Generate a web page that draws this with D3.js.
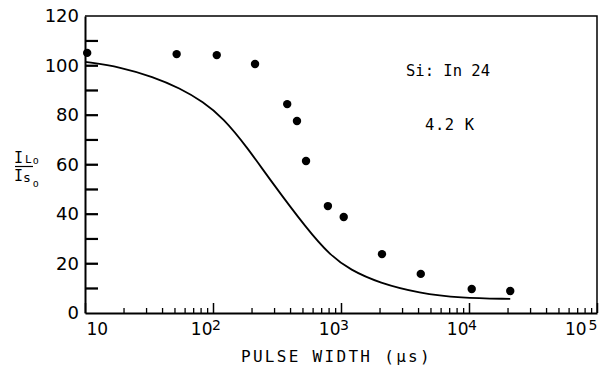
<!DOCTYPE html>
<html>
<head>
<meta charset="utf-8">
<script src="https://cdn.jsdelivr.net/npm/d3@7"></script>
<style>
body { margin: 0; background: #fff; }
</style>
</head>
<body>
<script>
// measured points (pulse width in us, IL/IS ratio)
var dotX = [10.4, 52, 107, 213, 380, 453, 533, 790, 1050, 2090, 4200, 10500, 21000];
var dotY = [105.1, 104.6, 104.2, 100.6, 84.4, 77.6, 61.4, 43.2, 38.8, 23.8, 15.8, 9.7, 8.9];

// calculated curve
var curveX = [10, 19, 34, 55, 84, 120, 184, 280, 550, 820, 1180, 2000, 4100, 8500, 21000];
var curveY = [101.5, 99.4, 95.4, 90.9, 85.3, 78.8, 67.1, 53.7, 33.5, 23.4, 17.4, 12.1, 8.0, 6.1, 5.7];

var yTicks = [10, 20, 30, 40, 50, 60, 70, 80, 90, 100, 110];
var yLabels = [0, 20, 40, 60, 80, 100, 120];
var xDecades = [10, 100, 1000, 10000, 100000];
var xExponents = ["", "2", "3", "4", "5"];

var W = 603, H = 366;
var plotL = 85, plotR = 597, plotT = 16, plotB = 313;

var svg = d3.select("body").append("svg")
    .attr("width", W)
    .attr("height", H);

var x = d3.scaleLog().domain([10, 100000]).range([plotL, plotR]);
var y = d3.scaleLinear().domain([0, 120]).range([plotB, plotT]);

var numFont = "'DejaVu Sans', sans-serif";
var monoFont = "'DejaVu Sans Mono', monospace";

// top and right of the frame
svg.append("path")
    .attr("d", "M" + x(10) + "," + y(120) + "H" + x(100000) + "V" + y(0))
    .attr("fill", "none")
    .attr("stroke", "#000")
    .attr("stroke-width", 1.5);

// y axis : ticks every 10 pointing into the plot
var gy = svg.append("g")
    .attr("transform", "translate(" + plotL + ",0)")
    .call(d3.axisRight(y).tickValues(yTicks).tickSizeInner(13).tickSizeOuter(0).tickFormat(function() { return ""; }));
gy.select(".domain").attr("stroke", "#000").attr("stroke-width", 2);
gy.selectAll(".tick line").attr("stroke", "#000").attr("stroke-width", 1.6);

// same tick marks drawn as plain lines so they show for sure
svg.append("g").selectAll("line")
    .data(yTicks)
    .enter().append("line")
    .attr("x1", plotL).attr("x2", plotL + 13)
    .attr("y1", function(d) { return y(d); })
    .attr("y2", function(d) { return y(d); })
    .attr("stroke", "#000")
    .attr("stroke-width", 1.8);

// labels every 20
var gy2 = svg.append("g")
    .attr("transform", "translate(" + plotL + ",0)")
    .call(d3.axisLeft(y).tickValues(yLabels).tickSizeInner(0).tickSizeOuter(0).tickPadding(6));
gy2.select(".domain").remove();
gy2.selectAll(".tick line").remove();
gy2.selectAll("text")
    .style("font-family", numFont)
    .style("font-size", "18px")
    .attr("fill", "#000");

// x axis : minor ticks 2..9 in each decade
var minor = [];
xDecades.slice(0, 4).forEach(function(d) {
    for (var k = 2; k <= 9; k++) minor.push(d * k);
});

var gxMinor = svg.append("g")
    .attr("transform", "translate(0," + plotB + ")")
    .call(d3.axisTop(x).tickValues(minor).tickSizeInner(5).tickSizeOuter(0).tickFormat(function() { return ""; }));
gxMinor.select(".domain").attr("stroke", "#000").attr("stroke-width", 2);
gxMinor.selectAll(".tick line").attr("stroke", "#000").attr("stroke-width", 1.3);

var gxMajor = svg.append("g")
    .attr("transform", "translate(0," + plotB + ")")
    .call(d3.axisTop(x).tickValues(xDecades).tickSizeInner(10).tickSizeOuter(0).tickFormat(function() { return ""; }));
gxMajor.select(".domain").remove();
gxMajor.selectAll(".tick line").attr("stroke", "#000").attr("stroke-width", 1.5);

gxMajor.selectAll(".tick").each(function(d, i) {
    var t = d3.select(this).append("text")
        .attr("y", 22)
        .attr("fill", "#000")
        .style("font-family", numFont)
        .style("font-size", "17px");
    if (xExponents[i] === "") {
        t.attr("x", 1).attr("text-anchor", "start").text("10");
    } else if (i === xDecades.length - 1) {
        t.attr("x", 0).attr("text-anchor", "end").text("10");
        t.append("tspan").attr("dx", 2).attr("dy", -5).style("font-size", "14px").text(xExponents[i]);
    } else {
        t.attr("x", -1).attr("text-anchor", "end").text("10");
        d3.select(this).append("text")
            .attr("x", 3)
            .attr("y", 17)
            .attr("fill", "#000")
            .style("font-family", numFont)
            .style("font-size", "14px")
            .text(xExponents[i]);
    }
});

// curve
var curveData = curveX.map(function(v, i) { return [v, curveY[i]]; });
svg.append("path")
    .datum(curveData)
    .attr("fill", "none")
    .attr("stroke", "#000")
    .attr("stroke-width", 1.8)
    .attr("d", d3.line()
        .x(function(d) { return x(d[0]); })
        .y(function(d) { return y(d[1]); })
        .curve(d3.curveBasis));

// dots
svg.selectAll("circle.pt")
    .data(dotX)
    .enter().append("circle")
    .attr("class", "pt")
    .attr("cx", function(d) { return x(d); })
    .attr("cy", function(d, i) { return y(dotY[i]); })
    .attr("r", 4.2)
    .attr("fill", "#000");

// annotations
svg.append("text")
    .attr("x", 406).attr("y", 76)
    .style("font-family", monoFont)
    .style("font-size", "15.5px")
    .text("Si: In 24");

svg.append("text")
    .attr("x", 425).attr("y", 130)
    .style("font-family", monoFont)
    .style("font-size", "15.5px")
    .style("letter-spacing", "0.6px")
    .text("4.2 K");

// x title
svg.append("text")
    .attr("x", 241).attr("y", 362)
    .style("font-family", monoFont)
    .style("font-size", "16px")
    .style("letter-spacing", "2.3px")
    .text("PULSE WIDTH (\u03bcs)");

// y title as a fraction IL0 / IS0
var num = svg.append("text")
    .attr("x", 14).attr("y", 163)
    .style("font-family", monoFont)
    .style("font-size", "15px");
num.append("tspan").text("I");
num.append("tspan").attr("dx", 2).attr("dy", 0).style("font-size", "11px").text("L");
num.append("tspan").attr("dx", 1).attr("dy", 1).style("font-size", "10px").text("o");

svg.append("line")
    .attr("x1", 15).attr("x2", 33)
    .attr("y1", 166.5).attr("y2", 166.5)
    .attr("stroke", "#000")
    .attr("stroke-width", 1.2);

var den = svg.append("text")
    .attr("x", 14).attr("y", 181)
    .style("font-family", monoFont)
    .style("font-size", "15px");
den.append("tspan").text("I");
den.append("tspan").attr("dx", 0).attr("dy", 1).style("font-size", "13px").text("s");
den.append("tspan").attr("dx", 2).attr("dy", 5).style("font-size", "10px").text("o");
</script>
</body>
</html>
